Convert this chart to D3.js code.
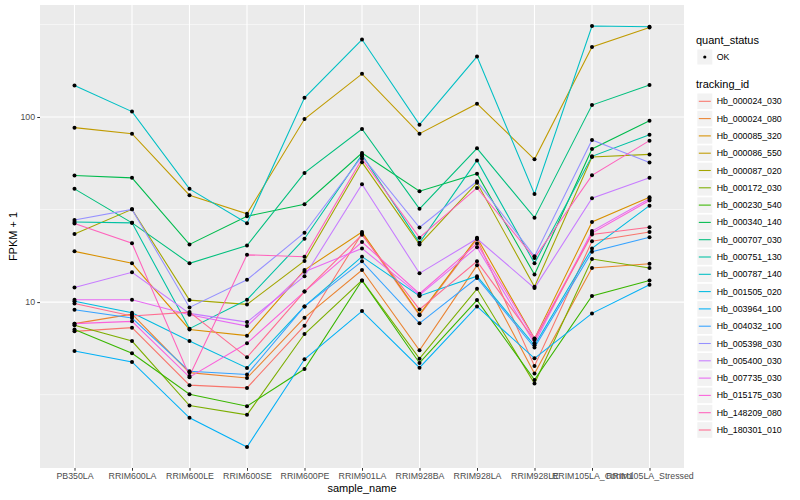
<!DOCTYPE html>
<html>
<head>
<meta charset="utf-8">
<script src="https://cdn.jsdelivr.net/npm/d3@7"></script>
<style>
body{margin:0;background:#fff;}
text{font-family:"Liberation Sans",Arial,sans-serif;}
</style>
</head>
<body>
<div class="fpkm-plot"></div>
<script>
const samples = ['PB350LA','RRIM600LA','RRIM600LE','RRIM600SE','RRIM600PE','RRIM901LA',
  'RRIM928BA','RRIM928LA','RRIM928LE','RRIM105LA_Control','RRIM105LA_Stressed'];

// FPKM + 1 for each tracking id, one value per sample
const hb_000024_030 = [6.95, 7.28, 3.56, 3.44, 7.46, 23.5, 8.48, 21.9, 4.52, 21.3, 23.9];
const hb_000024_080 = [7.65, 8.61, 4.16, 3.89, 8.24, 14.9, 5.49, 15.8, 4.11, 15.3, 16.1];
const hb_000085_320 = [18.8, 16.2, 7.12, 6.59, 14.9, 23.9, 8.58, 22.3, 6.35, 27.1, 36.8];
const hb_000086_550 = [87.6, 81.3, 37.8, 30.0, 97.5, 171, 81.3, 118, 59.1, 239, 304];
const hb_000087_020 = [23.3, 31.7, 10.25, 9.72, 16.7, 56.9, 20.5, 44.1, 12.1, 60.8, 62.8];
const hb_000172_030 = [7.49, 6.16, 2.76, 2.46, 6.72, 13.1, 4.95, 11.8, 3.63, 17.1, 15.3];
const hb_000230_540 = [7.12, 5.29, 3.18, 2.74, 4.35, 13.1, 4.69, 10.25, 3.80, 10.8, 13.1];
const hb_000340_140 = [48.3, 46.9, 20.5, 29.1, 33.8, 63.9, 39.7, 49.4, 14.1, 67.2, 95.5];
const hb_000707_030 = [40.9, 26.8, 16.2, 20.2, 49.9, 86.1, 31.9, 67.7, 28.6, 116, 149];
const hb_000751_130 = [27.1, 26.8, 7.19, 10.3, 22.0, 62.6, 20.9, 58.3, 16.2, 61.3, 80.3];
const hb_000787_140 = [148, 107, 40.9, 26.7, 127, 262, 90.9, 212, 38.4, 310, 307];
const hb_001505_020 = [10.1, 8.77, 6.16, 4.41, 9.48, 17.6, 10.8, 13.8, 5.84, 19.5, 33.2];
const hb_003964_100 = [5.44, 4.75, 2.37, 1.65, 4.91, 8.94, 4.42, 9.48, 4.97, 8.69, 12.4];
const hb_004032_100 = [9.10, 8.20, 4.23, 4.06, 9.48, 16.6, 7.68, 13.5, 5.68, 18.7, 22.4];
const hb_005398_030 = [27.8, 31.7, 9.36, 13.2, 23.7, 61.3, 25.3, 44.9, 17.7, 75.1, 56.7];
const hb_005400_030 = [12.0, 14.5, 8.69, 7.80, 13.8, 43.3, 14.3, 22.0, 11.9, 36.4, 46.9];
const hb_007735_030 = [10.3, 10.3, 8.55, 7.42, 14.6, 19.5, 10.9, 19.8, 5.99, 24.2, 36.2];
const hb_015175_030 = [7.65, 7.87, 3.93, 5.99, 11.4, 21.1, 11.1, 20.7, 6.33, 23.6, 35.4];
const hb_148209_080 = [26.6, 20.8, 3.99, 18.0, 17.6, 59.4, 22.3, 41.4, 17.3, 48.4, 74.5];
const hb_180301_010 = [9.84, 8.41, 8.83, 5.03, 11.4, 23.1, 9.13, 16.6, 6.24, 23.2, 25.4];

const trackingIds = ['Hb_000024_030','Hb_000024_080','Hb_000085_320','Hb_000086_550','Hb_000087_020',
  'Hb_000172_030','Hb_000230_540','Hb_000340_140','Hb_000707_030','Hb_000751_130','Hb_000787_140',
  'Hb_001505_020','Hb_003964_100','Hb_004032_100','Hb_005398_030','Hb_005400_030','Hb_007735_030',
  'Hb_015175_030','Hb_148209_080','Hb_180301_010'];
const seriesValues = [hb_000024_030, hb_000024_080, hb_000085_320, hb_000086_550, hb_000087_020,
  hb_000172_030, hb_000230_540, hb_000340_140, hb_000707_030, hb_000751_130, hb_000787_140,
  hb_001505_020, hb_003964_100, hb_004032_100, hb_005398_030, hb_005400_030, hb_007735_030,
  hb_015175_030, hb_148209_080, hb_180301_010];
const quantStatus = ['OK'];

// ggplot hue palette for 20 levels
const colors = ['#F8766D','#EA8331','#D89000','#C09B00','#A3A500','#7CAE00','#39B600','#00BB4E',
  '#00BF7D','#00C1A3','#00BFC4','#00BAE0','#00B0F6','#35A2FF','#9590FF','#C77CFF','#E76BF3',
  '#FA62DB','#FF62BC','#FF6C91'];

const series = trackingIds.map((id,i)=>({
  id: id,
  color: colors[i],
  points: samples.map((s,j)=>({sample: s, value: seriesValues[i][j]}))
}));

const width = 800, height = 500;
const panel = {left: 40, right: 684, top: 5, bottom: 468};

const svg = d3.select('.fpkm-plot').append('svg')
  .attr('width', width)
  .attr('height', height);

// scales
const x = d3.scalePoint()
  .domain(samples)
  .range([panel.left, panel.right])
  .padding(0.6);

const allVals = seriesValues.flat();
const lo = Math.log10(d3.min(allVals)), hi = Math.log10(d3.max(allVals));
const pad = (hi-lo)*0.05;
const y = d3.scaleLog()
  .domain([Math.pow(10, lo-pad), Math.pow(10, hi+pad)])
  .range([panel.bottom, panel.top]);

// panel background and grid
svg.append('rect')
  .attr('x', panel.left).attr('y', panel.top)
  .attr('width', panel.right-panel.left).attr('height', panel.bottom-panel.top)
  .attr('fill', '#EBEBEB');

const majorY = [10, 100];
const minorY = [Math.pow(10,0.5), Math.pow(10,1.5), Math.pow(10,2.5)];

svg.selectAll('.minor-y')
  .data(minorY.filter(v=>v>y.domain()[0] && v<y.domain()[1]))
  .enter().append('line')
  .attr('x1', panel.left).attr('x2', panel.right)
  .attr('y1', d=>y(d)).attr('y2', d=>y(d))
  .attr('stroke', '#fff').attr('stroke-width', 0.55);

svg.selectAll('.major-y')
  .data(majorY)
  .enter().append('line')
  .attr('x1', panel.left).attr('x2', panel.right)
  .attr('y1', d=>y(d)).attr('y2', d=>y(d))
  .attr('stroke', '#fff').attr('stroke-width', 1.1);

svg.selectAll('.major-x')
  .data(samples)
  .enter().append('line')
  .attr('x1', d=>x(d)).attr('x2', d=>x(d))
  .attr('y1', panel.top).attr('y2', panel.bottom)
  .attr('stroke', '#fff').attr('stroke-width', 1.1);

// lines
const line = d3.line()
  .x(d=>x(d.sample))
  .y(d=>y(d.value));

svg.selectAll('.series')
  .data(series)
  .enter().append('path')
  .attr('d', d=>line(d.points))
  .attr('fill', 'none')
  .attr('stroke', d=>d.color)
  .attr('stroke-width', 1.07);

// points
svg.selectAll('.pt')
  .data(series.flatMap(s=>s.points))
  .enter().append('circle')
  .attr('cx', d=>x(d.sample))
  .attr('cy', d=>y(d.value))
  .attr('r', 2)
  .attr('fill', '#000');

// axes
const yAxis = svg.append('g')
  .attr('transform', `translate(${panel.left},0)`)
  .call(d3.axisLeft(y).tickValues(majorY).tickFormat(d3.format('d')).tickSize(2.75).tickPadding(2.2));
const xAxis = svg.append('g')
  .attr('transform', `translate(0,${panel.bottom})`)
  .call(d3.axisBottom(x).tickSize(2.75).tickPadding(2.2));
[yAxis, xAxis].forEach(g=>{
  g.select('.domain').remove();
  g.selectAll('.tick line').attr('stroke', '#333');
  g.selectAll('.tick text')
    .attr('fill', '#4D4D4D')
    .attr('font-size', 8.8)
    .attr('font-family', '"Liberation Sans",Arial,sans-serif');
});

svg.append('text')
  .attr('x', (panel.left+panel.right)/2).attr('y', 492)
  .attr('text-anchor', 'middle').attr('font-size', 11)
  .text('sample_name');

svg.append('text')
  .attr('transform', `translate(17,${(panel.top+panel.bottom)/2}) rotate(-90)`)
  .attr('text-anchor', 'middle').attr('font-size', 11)
  .text('FPKM + 1');

// legends
const leg = svg.append('g');
leg.append('text').attr('x', 696).attr('y', 44).attr('font-size', 11).text('quant_status');
leg.selectAll('.qkey').data(quantStatus).enter().append('rect')
  .attr('x', 697.3).attr('y', 49.5).attr('width', 15).attr('height', 15)
  .attr('fill', '#F2F2F2');
leg.selectAll('.qdot').data(quantStatus).enter().append('circle')
  .attr('cx', 704.8).attr('cy', 57).attr('r', 1.6).attr('fill', '#000');
leg.selectAll('.qlab').data(quantStatus).enter().append('text')
  .attr('x', 716.7).attr('y', 60.2).attr('font-size', 8.8).text(d=>d);

leg.append('text').attr('x', 696).attr('y', 88).attr('font-size', 11).text('tracking_id');
const keys = leg.selectAll('.tkey').data(series).enter().append('g')
  .attr('transform', (d,i)=>`translate(697.3,${93.5+i*17.3})`);
keys.append('rect').attr('width', 15).attr('height', 15.6).attr('fill', '#F2F2F2');
keys.append('line')
  .attr('x1', 1.5).attr('x2', 13.5).attr('y1', 7.8).attr('y2', 7.8)
  .attr('stroke', d=>d.color).attr('stroke-width', 1.07);
keys.append('text')
  .attr('x', 19.4).attr('y', 10.9).attr('font-size', 8.8)
  .text(d=>d.id);
</script>
</body>
</html>
